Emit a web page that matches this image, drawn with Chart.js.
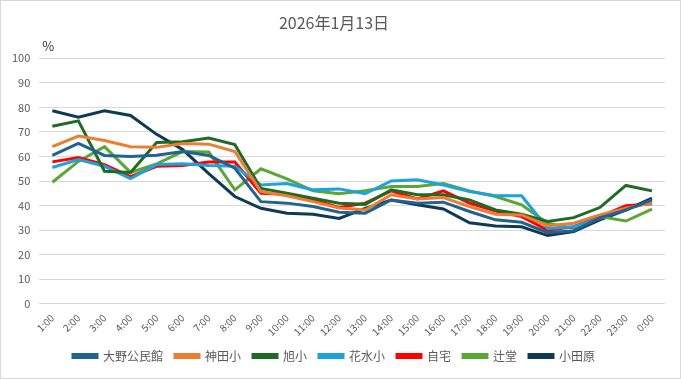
<!DOCTYPE html>
<html>
<head>
<meta charset="utf-8">
<script src="https://cdn.jsdelivr.net/npm/chart.js@4/dist/chart.umd.min.js"></script>
<style>
  html, body { margin: 0; padding: 0; background: #fff; }
  #wrap { width: 681px; height: 379px; box-sizing: border-box; border: 1px solid #d9d9d9; }
</style>
</head>
<body>
<div id="wrap"><canvas id="line-chart" width="679" height="377"></canvas></div>
<script>
const hours = ["1:00", "2:00", "3:00", "4:00", "5:00", "6:00", "7:00", "8:00", "9:00", "10:00", "11:00", "12:00",
  "13:00", "14:00", "15:00", "16:00", "17:00", "18:00", "19:00", "20:00", "21:00", "22:00", "23:00", "0:00"];

const ono = [60.4, 65.3, 60.4, 60, 60.5, 62, 60.4, 55.2, 41.6, 41, 39.6, 37.3, 36.9, 42.3, 41, 41.4, 37.6, 34.2, 33.2, 29, 29.7, 35, 38.2, 42.3];
const kanda = [64, 68.3, 66.5, 64, 63.7, 65.3, 65, 62, 45.7, 44, 41.6, 39, 38.2, 44.4, 42.7, 43.3, 39.6, 36.5, 36.2, 31.8, 32.8, 36.2, 38.9, 41];
const asahi = [72.3, 74.5, 54, 53.5, 65.7, 66, 67.5, 64.8, 47, 45, 43, 41, 40.5, 46.4, 44.4, 44.4, 42.3, 38.2, 36.5, 33.5, 35.1, 39.2, 48.2, 46];
const hanamizu = [55.5, 58.7, 56, 51, 56.7, 57, 56.3, 56, 48.4, 49, 46.4, 46.8, 44.8, 50, 50.5, 48.4, 45.7, 44, 44, 30.7, 31.4, 34.8, 38.6, 41.6];
const jitaku = [57.8, 59.6, 56.7, 51.8, 56, 56.3, 57.7, 57.7, 45, 44.6, 42.3, 39.2, 41, 46, 42.7, 46, 41, 37.8, 35.5, 30, 31.4, 35.5, 39.9, 40.7];
const tsujido = [49.5, 58, 64, 53.5, 57, 62, 61.8, 46.4, 55, 50.9, 46, 44.8, 46, 47.8, 47.8, 49, 46, 43.7, 40.3, 32.8, 30.7, 35.5, 33.7, 38.6];
const odawara = [78.6, 76, 78.6, 76.7, 69, 62.8, 53, 43.7, 38.9, 36.9, 36.5, 34.8, 38.9, 42.3, 40.3, 38.6, 33, 31.7, 31.4, 27.8, 29.4, 34.2, 38.2, 43];

const yTicks = [0, 10, 20, 30, 40, 50, 60, 70, 80, 90, 100];

const fontFamily = "'Noto Sans CJK JP', 'Noto Sans', sans-serif";
const textColor = "#595959";

function series(label, data, color) {
  return {
    label: label,
    data: data,
    borderColor: color,
    backgroundColor: color,
    borderWidth: 3,
    pointRadius: 0,
    tension: 0,
    fill: false
  };
}

// draws the "%" unit above the y axis
const unitLabel = {
  id: "unitLabel",
  afterDraw(chart) {
    const ctx = chart.ctx;
    const area = chart.chartArea;
    ctx.save();
    ctx.font = "13px " + fontFamily;
    ctx.fillStyle = "#333";
    ctx.textAlign = "left";
    ctx.textBaseline = "bottom";
    ctx.fillText("%", area.left + 3, area.top - 6);
    ctx.restore();
  }
};

new Chart(document.getElementById("line-chart"), {
  type: "line",
  data: {
    labels: hours,
    datasets: [
      series("大野公民館", ono, "#1f6391"),
      series("神田小", kanda, "#ed7d31"),
      series("旭小", asahi, "#1e6b24"),
      series("花水小", hanamizu, "#1aa3dc"),
      series("自宅", jitaku, "#ff0000"),
      series("辻堂", tsujido, "#5aa832"),
      series("小田原", odawara, "#0e3a53")
    ]
  },
  options: {
    responsive: false,
    animation: false,
    layout: { padding: { left: 2, right: 15, top: 0, bottom: 6 } },
    plugins: {
      title: {
        display: true,
        text: "2026年1月13日",
        color: textColor,
        font: { family: fontFamily, size: 16, weight: "normal" },
        padding: { top: 12, bottom: 26 }
      },
      legend: {
        position: "bottom",
        labels: {
          color: textColor,
          font: { family: fontFamily, size: 12 },
          boxWidth: 24,
          boxHeight: 3,
          padding: 12
        }
      },
      tooltip: { enabled: false }
    },
    scales: {
      x: {
        offset: true,
        grid: { display: false },
        border: { display: false },
        ticks: {
          color: textColor,
          font: { family: fontFamily, size: 10 },
          maxRotation: 45,
          minRotation: 45,
          autoSkip: false,
          padding: 0
        }
      },
      y: {
        min: 0,
        max: 100,
        afterBuildTicks(axis) { axis.ticks = yTicks.map(v => ({ value: v })); },
        grid: { color: "#d9d9d9", lineWidth: 1, drawTicks: false },
        border: { display: false },
        ticks: {
          color: textColor,
          font: { family: fontFamily, size: 11 },
          padding: 9
        }
      }
    }
  },
  plugins: [unitLabel]
});
</script>
</body>
</html>
